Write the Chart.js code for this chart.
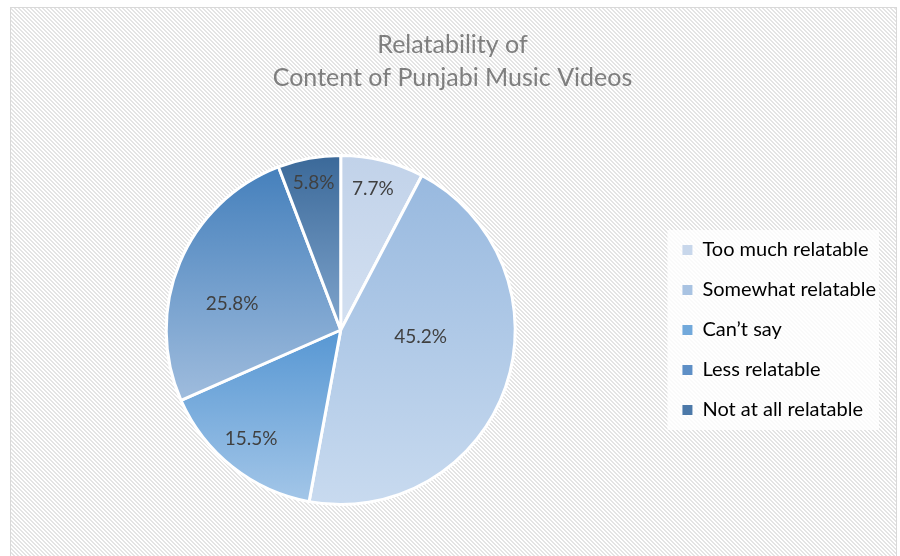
<!DOCTYPE html>
<html>
<head>
<meta charset="utf-8">
<script src="https://cdn.jsdelivr.net/npm/chart.js@4.4.1/dist/chart.umd.min.js"></script>
<style>
  html, body { margin: 0; padding: 0; background: #fff; overflow: hidden; }
  #frame {
    position: absolute; left: 10px; top: 7px; width: 885px; height: 600px;
    border: 1px solid #d9d9d9;
    background: repeating-linear-gradient(45deg, #ffffff 0px, #ffffff 1.4px, #e4e4e4 1.4px, #e4e4e4 2.83px);
  }
  canvas { display: block; }
</style>
</head>
<body>
<div id="frame"><canvas id="chart" width="885" height="548"></canvas></div>
<script>
// chart data
const labels = ['Too much relatable', 'Somewhat relatable', 'Can\u2019t say', 'Less relatable', 'Not at all relatable'];
const values = [7.7, 45.2, 15.5, 25.8, 5.8];

// slice colours: top of each slice is darker, bottom lighter
const topColors = ['#c1d2e9', '#98b9df', '#5797d3', '#4580bc', '#3b6999'];
const bottomColors = ['#d3e0f1', '#c8daef', '#a3c6e8', '#9fbcdd', '#80a5cd'];
const legendColors = ['#c8d7eb', '#a9c3e2', '#72a9db', '#5e8fc6', '#4c79a9'];

// where the % labels sit in each slice (fraction of radius, turn in degrees off the middle)
const labelRadius = [0.83, 0.46, 0.81, 0.64, 0.86];
const labelShift = [-1, -14, 1, -9, 0];

function sliceGradient(c) {
    const chart = c.chart;
    const area = chart.chartArea;
    const ctrl = chart.getDatasetMeta(0).controller;
    if (!area || !ctrl || !ctrl.outerRadius) return legendColors[c.dataIndex];
    const cx = (area.left + area.right) / 2;
    const cy = (area.top + area.bottom) / 2;
    const r = ctrl.outerRadius;
    const total = values.reduce((a, b) => a + b, 0);
    let before = 0;
    for (let k = 0; k < c.dataIndex; k++) before += values[k];
    const s = -Math.PI / 2 + 2 * Math.PI * before / total;
    const e = s + 2 * Math.PI * values[c.dataIndex] / total;
    const ys = [cy, cy + r * Math.sin(s), cy + r * Math.sin(e)];
    for (let k = -1; k <= 2; k++) {
        const up = -Math.PI / 2 + 2 * Math.PI * k;
        const down = Math.PI / 2 + 2 * Math.PI * k;
        if (up > s && up < e) ys.push(cy - r);
        if (down > s && down < e) ys.push(cy + r);
    }
    const g = chart.ctx.createLinearGradient(0, Math.min(...ys), 0, Math.max(...ys));
    g.addColorStop(0, topColors[c.dataIndex]);
    g.addColorStop(1, bottomColors[c.dataIndex]);
    return g;
}

// white panel behind the legend
const legendPanel = {
    id: 'legendPanel',
    beforeDraw(chart) {
        const boxes = chart.legend && chart.legend.legendHitBoxes;
        if (!boxes || !boxes.length) return;
        const ctx = chart.ctx;
        const top = boxes[0].top - 10;
        const last = boxes[boxes.length - 1];
        const bottom = last.top + last.height + 10;
        ctx.save();
        ctx.fillStyle = 'rgba(255,255,255,0.82)';
        ctx.fillRect(chart.legend.left + 5, top, chart.legend.width - 12, bottom - top);
        ctx.restore();
    }
};

// percentage labels inside the slices
const sliceLabels = {
    id: 'sliceLabels',
    afterDatasetsDraw(chart) {
        const ctx = chart.ctx;
        const meta = chart.getDatasetMeta(0);
        ctx.save();
        ctx.font = '19px Lato';
        ctx.fillStyle = '#404040';
        ctx.textAlign = 'center';
        ctx.textBaseline = 'middle';
        meta.data.forEach((arc, i) => {
            const p = arc.getProps(['x', 'y', 'startAngle', 'endAngle', 'outerRadius'], true);
            const mid = (p.startAngle + p.endAngle) / 2 + labelShift[i] * Math.PI / 180;
            const rr = p.outerRadius * labelRadius[i];
            ctx.fillText(values[i].toFixed(1) + '%', p.x + Math.cos(mid) * rr, p.y + Math.sin(mid) * rr);
        });
        ctx.restore();
    }
};

const ctx = document.getElementById('chart').getContext('2d');
const pieChart = new Chart(ctx, {
    type: 'pie',
    data: {
        labels: labels,
        datasets: [{
            data: values,
            backgroundColor: sliceGradient,
            borderColor: '#ffffff',
            borderWidth: 3
        }]
    },
    options: {
        responsive: false,
        animation: false,
        layout: { padding: { top: 0, bottom: 50, left: 8, right: 10 } },
        plugins: {
            title: {
                display: true,
                text: ['Relatability of', 'Content of Punjabi Music Videos'],
                color: '#7f7f7f',
                font: { family: 'Lato', size: 25, weight: 'normal', lineHeight: 1.32 },
                padding: { top: 20, bottom: 60 }
            },
            legend: {
                position: 'right',
                fullSize: false,
                labels: {
                    color: '#595959',
                    font: { family: 'Lato', size: 20 },
                    boxWidth: 10,
                    boxHeight: 10,
                    padding: 20,
                    generateLabels: (chart) => labels.map((t, i) => ({
                        text: t,
                        fillStyle: legendColors[i],
                        strokeStyle: legendColors[i],
                        lineWidth: 0,
                        index: i,
                        hidden: false
                    }))
                }
            },
            tooltip: { enabled: false }
        }
    },
    plugins: [legendPanel, sliceLabels]
});
</script>
</body>
</html>
